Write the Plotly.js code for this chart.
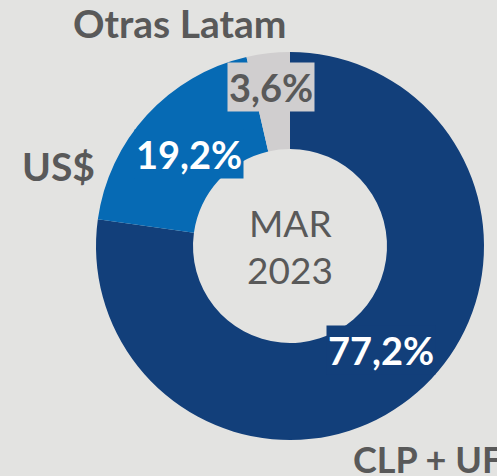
<!DOCTYPE html>
<html>
<head>
<meta charset="utf-8">
<script src="https://cdn.plot.ly/plotly-3.0.1.min.js"></script>
<style>html,body{margin:0;padding:0;background:#e3e3e1;}#chart{width:497px;height:476px;}</style>
</head>
<body>
<div id="chart"></div>
<script>
const categories = ["CLP + UF", "US$", "Otras Latam"];
const values = [77.2, 19.2, 3.6];
const valueLabels = ["77,2%", "19,2%", "3,6%"];
const colors = ["#123f7a", "#066ab4", "#d0cecf"];
const pctTextColors = ["#ffffff", "#ffffff", "#595959"];
const centerLines = ["MAR", "2023"];

const W = 497, H = 476;
const px = x => x / W;
const py = y => 1 - y / H;

// label placements (pixel positions in the 497x476 frame) and sizes
const pctPos = [[381, 350], [189, 154], [271, 87]];
const catPos = [[351, 459, "left", 36], [58, 166, "center", 39], [179, 23, "center", 39]];

const font = "Lato, 'Open Sans', sans-serif";

const annotations = [];
categories.forEach((c, i) => {
  annotations.push({
    xref: "paper", yref: "paper", x: px(pctPos[i][0]), y: py(pctPos[i][1]),
    text: "<b>" + valueLabels[i] + "</b>", showarrow: false,
    font: {family: font, size: 38, color: pctTextColors[i]},
    bgcolor: colors[i], borderpad: 1, xanchor: "center", yanchor: "middle"
  });
  annotations.push({
    xref: "paper", yref: "paper", x: px(catPos[i][0]), y: py(catPos[i][1]),
    text: "<b>" + c + "</b>", showarrow: false,
    font: {family: font, size: catPos[i][3], color: "#595959"},
    xanchor: catPos[i][2], yanchor: "middle"
  });
});
annotations.push({
  xref: "paper", yref: "paper", x: px(290), y: py(222), text: centerLines[0], showarrow: false,
  font: {family: font, size: 37, color: "#595959"}, xanchor: "center", yanchor: "middle"
});
annotations.push({
  xref: "paper", yref: "paper", x: px(290), y: py(269), text: centerLines[1], showarrow: false,
  font: {family: font, size: 37, color: "#595959"}, xanchor: "center", yanchor: "middle"
});

const cx = 290, cy = 246, r = 194;
const data = [{
  type: "pie",
  labels: categories,
  values: values,
  hole: 0.5,
  sort: false,
  direction: "clockwise",
  rotation: 0,
  textinfo: "none",
  hoverinfo: "none",
  marker: {colors: colors, line: {width: 0}},
  domain: {x: [px(cx - r), px(cx + r)], y: [py(cy + r), py(cy - r)]},
  showlegend: false
}];

const layout = {
  width: W, height: H,
  margin: {l: 0, r: 0, t: 0, b: 0},
  paper_bgcolor: "#e3e3e1",
  plot_bgcolor: "#e3e3e1",
  showlegend: false,
  annotations: annotations
};

Plotly.newPlot("chart", data, layout, {displayModeBar: false, staticPlot: true});
</script>
</body>
</html>
